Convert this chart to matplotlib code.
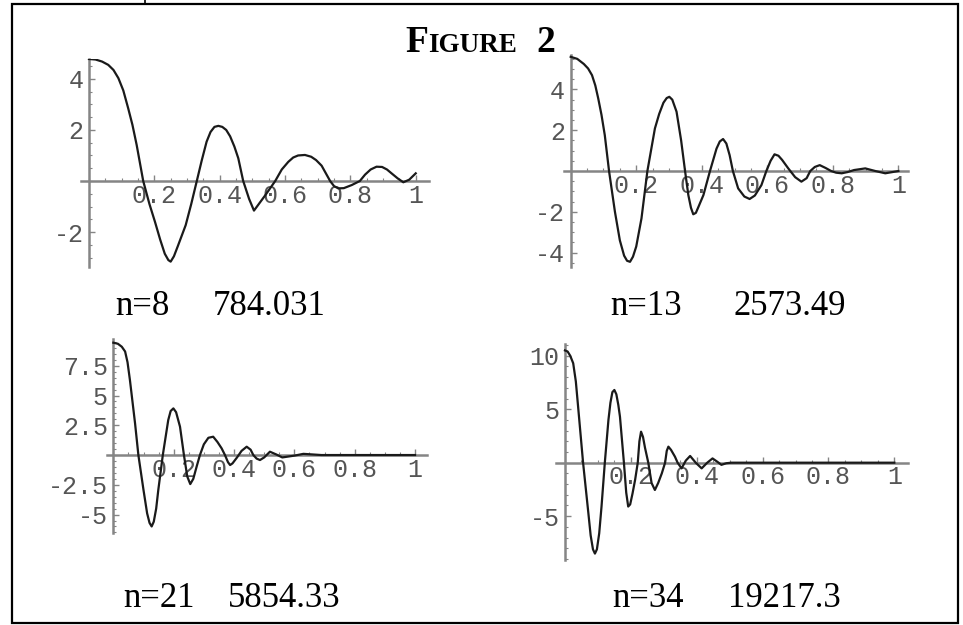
import matplotlib
matplotlib.use('Agg')
import matplotlib.pyplot as plt
from matplotlib.ticker import MultipleLocator
from matplotlib.patches import Rectangle
from matplotlib.lines import Line2D

W, H = 963, 625

# values
t_n8 = [0, 0.02, 0.04, 0.059, 0.075, 0.09, 0.105, 0.12, 0.133, 0.146, 0.166, 0.185, 0.202,
        0.218, 0.232, 0.243, 0.25, 0.26, 0.272, 0.296, 0.313, 0.33, 0.345, 0.36, 0.372,
        0.384, 0.396, 0.408, 0.42, 0.432, 0.445, 0.457, 0.472, 0.49, 0.505, 0.54, 0.57,
        0.59, 0.61, 0.625, 0.64, 0.661, 0.68, 0.695, 0.712, 0.725, 0.738, 0.75, 0.763,
        0.78, 0.804, 0.829, 0.845, 0.862, 0.88, 0.897, 0.912, 0.926, 0.945, 0.962, 0.98, 1.0]
y_n8 = [4.78, 4.76, 4.68, 4.55, 4.35, 4.03, 3.55, 2.85, 2.2, 1.41, 0.0, -0.9, -1.6,
        -2.3, -2.85, -3.1, -3.16, -2.95, -2.55, -1.73, -0.9, 0.0, 0.8, 1.54, 1.92,
        2.12, 2.16, 2.12, 2.0, 1.75, 1.35, 0.89, 0.0, -0.7, -1.16, -0.55, 0.0,
        0.45, 0.75, 0.92, 1.0, 1.02, 0.95, 0.82, 0.6, 0.3, 0.0, -0.2, -0.29,
        -0.28, -0.16, 0.0, 0.25, 0.45, 0.56, 0.55, 0.45, 0.3, 0.1, -0.05, 0.05, 0.3]

t_n13 = [0.0, 0.02, 0.04, 0.053, 0.065, 0.075, 0.084, 0.094, 0.104, 0.117, 0.135, 0.15,
         0.163, 0.172, 0.181, 0.19, 0.2, 0.216, 0.234, 0.257, 0.27, 0.283, 0.293, 0.301,
         0.31, 0.323, 0.337, 0.349, 0.359, 0.367, 0.374, 0.382, 0.39, 0.405, 0.425, 0.445,
         0.455, 0.465, 0.475, 0.485, 0.495, 0.511, 0.53, 0.546, 0.562, 0.582, 0.597, 0.61,
         0.622, 0.634, 0.645, 0.664, 0.685, 0.704, 0.72, 0.731, 0.745, 0.76, 0.778, 0.795,
         0.81, 0.827, 0.845, 0.865, 0.899, 0.93, 0.96, 1.0]
y_n13 = [5.6, 5.5, 5.25, 5.03, 4.7, 4.2, 3.56, 2.75, 1.76, 0.0, -2.0, -3.4,
         -4.15, -4.4, -4.45, -4.2, -3.7, -2.32, 0.0, 2.09, 2.8, 3.35, 3.58, 3.64,
         3.5, 2.91, 1.5, 0.0, -1.18, -1.8, -2.12, -2.05, -1.75, -1.18, 0.0, 1.1,
         1.45, 1.57, 1.35, 0.78, 0.0, -0.85, -1.25, -1.37, -1.2, -0.69, 0.0, 0.5,
         0.82, 0.75, 0.55, 0.13, -0.3, -0.52, -0.35, 0.0, 0.2, 0.29, 0.15, 0.0,
         -0.08, -0.11, -0.05, 0.05, 0.13, 0.0, -0.11, 0.0]

t_n21 = [0.0, 0.015, 0.028, 0.039, 0.047, 0.055, 0.072, 0.083, 0.1, 0.112, 0.12, 0.127,
         0.134, 0.142, 0.149, 0.164, 0.182, 0.19, 0.199, 0.208, 0.221, 0.234, 0.245, 0.255,
         0.265, 0.276, 0.287, 0.3, 0.315, 0.331, 0.345, 0.359, 0.37, 0.38, 0.387, 0.395,
         0.41, 0.425, 0.442, 0.455, 0.464, 0.475, 0.486, 0.5, 0.519, 0.54, 0.56, 0.6,
         0.63, 0.69, 0.8, 1.0]
y_n21 = [9.44, 9.35, 9.1, 8.7, 7.8, 6.3, 2.66, 0.0, -2.94, -4.9, -5.7, -6.0,
         -5.6, -4.5, -2.94, 0.0, 2.94, 3.7, 3.92, 3.6, 2.38, 0.0, -1.8, -2.44,
         -2.0, -0.98, 0.0, 0.9, 1.45, 1.54, 1.1, 0.56, 0.0, -0.6, -0.84, -0.7,
         -0.2, 0.35, 0.7, 0.45, 0.0, -0.3, -0.42, -0.2, 0.28, 0.05, -0.2, -0.05,
         0.1, 0.0, 0.0, 0.0]

t_n34 = [0.0, 0.008, 0.016, 0.025, 0.033, 0.04, 0.055, 0.071, 0.078, 0.085, 0.091, 0.097,
         0.104, 0.111, 0.121, 0.132, 0.138, 0.144, 0.15, 0.156, 0.162, 0.167, 0.179, 0.186,
         0.192, 0.198, 0.205, 0.213, 0.221, 0.226, 0.231, 0.237, 0.243, 0.253, 0.263, 0.273,
         0.283, 0.294, 0.304, 0.309, 0.314, 0.322, 0.334, 0.342, 0.354, 0.367, 0.38, 0.397,
         0.415, 0.432, 0.448, 0.462, 0.475, 0.49, 0.505, 0.55, 0.6, 1.0]
y_n34 = [10.5, 10.4, 10.0, 9.3, 7.6, 5.2, 0.0, -4.7, -6.8, -8.1, -8.5, -8.1,
         -6.6, -4.1, 0.0, 4.0, 5.6, 6.6, 6.8, 6.4, 5.4, 4.3, 0.0, -2.8,
         -4.1, -3.9, -2.9, -1.6, 0.0, 2.0, 2.9, 2.4, 1.4, 0.0, -1.9, -2.55,
         -1.9, -1.0, 0.0, 1.1, 1.5, 1.2, 0.56, 0.0, -0.53, 0.2, 0.63, 0.0,
         -0.53, 0.0, 0.4, 0.1, -0.2, -0.05, 0.0, 0.0, 0.0, 0.0]

captions_n = ['n=8', 'n=13', 'n=21', 'n=34']
captions_val = ['784.031', '2573.49', '5854.33', '19217.3']

x_ticks = [0.2, 0.4, 0.6, 0.8, 1]
x_ticklabels = ['0.2', '0.4', '0.6', '0.8', '1']
y_ticks = [[-2, 2, 4], [-4, -2, 2, 4], [-5, -2.5, 2.5, 5, 7.5], [-5, 5, 10]]
y_ticklabels = [['-2', '2', '4'], ['-4', '-2', '2', '4'],
                ['-5', '-2.5', '2.5', '5', '7.5'], ['-5', '5', '10']]

series = [(t_n8, y_n8), (t_n13, y_n13), (t_n21, y_n21), (t_n34, y_n34)]

# layout in pixels: axes box (x0, y0, x1, y1), limits, minor y step, caption spots
boxes = [(80.8, 59, 428.8, 267), (563.5, 55, 908.2, 266.7),
         (106.7, 339, 427.1, 533), (556.4, 344, 907.5, 560)]
xlims = [(-0.025, 1.04), (-0.022, 1.03), (-0.022, 1.04), (-0.026, 1.04)]
ylims = [(-3.37, 4.78), (-4.69, 5.69), (-6.55, 9.75), (-9.1, 11.1)]
minor_y = [0.5, 0.5, 0.5, 1]
cap_n_x = [115, 610, 123, 612]
cap_v_x = [213, 733, 228, 728]
cap_y = [315, 315, 606.7, 606.7]

axis_color = '#858585'
label_color = '#555555'
mono = 'Liberation Mono'
serif = 'Liberation Serif'


def fx(x):
    return x / W


def fy(y):
    return 1 - y / H


fig = plt.figure(figsize=(W / 100, H / 100), dpi=100)

for i, (t, y) in enumerate(series):
    x0, y0, x1, y1 = boxes[i]
    ax = fig.add_axes([fx(x0), fy(y1), (x1 - x0) / W, (y1 - y0) / H])
    ax.patch.set_visible(False)
    ax.plot(t, y, color='#1a1a1a', linewidth=1.6, solid_joinstyle='round', zorder=3)
    ax.set_xlim(*xlims[i])
    ax.set_ylim(*ylims[i])

    for side in ['top', 'right']:
        ax.spines[side].set_visible(False)
    ax.spines['left'].set_position(('data', 0))
    ax.spines['bottom'].set_position(('data', 0))
    for side in ['left', 'bottom']:
        ax.spines[side].set_color(axis_color)
        ax.spines[side].set_linewidth(1.8)

    ax.set_xticks(x_ticks, x_ticklabels)
    ax.set_yticks(y_ticks[i], y_ticklabels[i])
    ax.xaxis.set_minor_locator(MultipleLocator(0.05))
    ax.yaxis.set_minor_locator(MultipleLocator(minor_y[i]))
    ax.tick_params(which='major', direction='in', length=4, width=1, color=axis_color,
                   labelcolor=label_color, labelsize=18)
    ax.tick_params(which='minor', direction='in', length=2, width=0.8, color=axis_color)
    ax.tick_params(axis='x', pad=2)
    ax.tick_params(axis='y', pad=4)
    for lab in ax.get_xticklabels() + ax.get_yticklabels():
        lab.set_fontfamily(mono)

    fig.text(fx(cap_n_x[i]), fy(cap_y[i]), captions_n[i], family=serif, fontsize=25,
             va='baseline', ha='left')
    fig.text(fx(cap_v_x[i]), fy(cap_y[i]), captions_val[i], family=serif, fontsize=25,
             va='baseline', ha='left')

# title in small caps
fig.text(fx(405.5), fy(51.7), 'F', family=serif, fontsize=27, fontweight='bold', va='baseline')
fig.text(fx(428.5), fy(51.7), 'IGURE', family=serif, fontsize=19.5, fontweight='bold', va='baseline')
fig.text(fx(536), fy(51.7), '2', family=serif, fontsize=27, fontweight='bold', va='baseline')

# frame around the figure
fig.patches.append(Rectangle((fx(12), fy(622.5)), fx(957.5) - fx(12), fy(3.5) - fy(622.5),
                             transform=fig.transFigure, fill=False, edgecolor='black',
                             linewidth=1.6))
fig.lines.append(Line2D([fx(145), fx(145)], [fy(0), fy(3.5)], transform=fig.transFigure,
                        color='black', linewidth=1.2))

fig.savefig('out.png', dpi=100)
